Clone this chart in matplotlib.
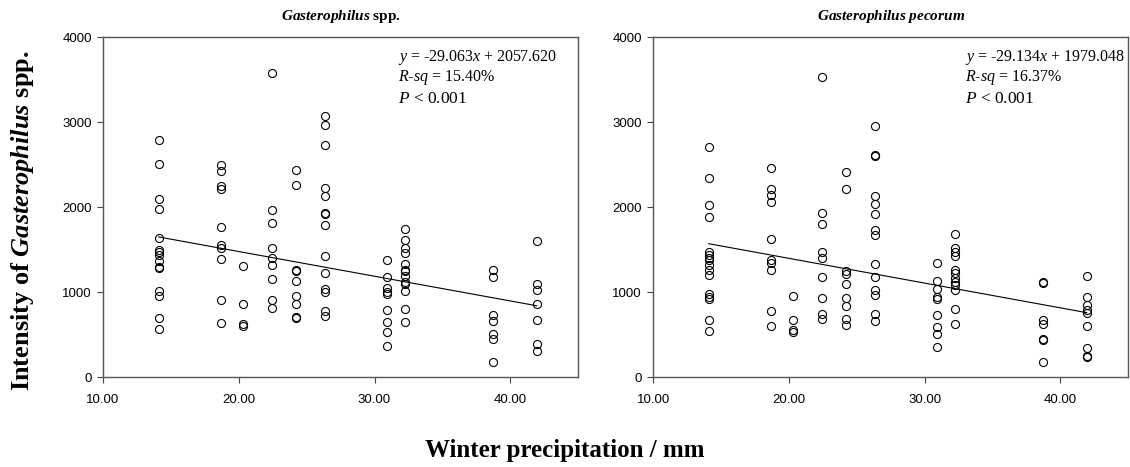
import matplotlib
matplotlib.use("Agg")
import matplotlib.pyplot as plt
import numpy as np

plt.rcParams['mathtext.fontset'] = 'custom'
plt.rcParams['mathtext.it'] = 'Liberation Serif:italic'
plt.rcParams['mathtext.rm'] = 'Liberation Serif'
plt.rcParams['mathtext.bf'] = 'Liberation Serif:bold'
plt.rcParams['mathtext.bfit'] = 'Liberation Serif:italic:bold'

# winter precipitation (mm) of each sampling site
sites = [14.1, 18.7, 20.3, 22.45, 24.2, 26.35, 30.9, 32.25, 38.75, 41.95]

# Gasterophilus spp. intensity per site
spp_vals = [
    [2784, 2510, 2094, 1973, 1640, 1494, 1470, 1435, 1369, 1298, 1282, 1010, 950, 700, 565],
    [2494, 2424, 2251, 2212, 1761, 1557, 1522, 1384, 902, 635],
    [1306, 859, 627, 596],
    [3576, 1965, 1816, 1518, 1400, 1322, 1153, 902, 816],
    [2431, 2263, 1263, 1247, 1129, 957, 863, 706, 690],
    [3071, 2965, 2725, 2220, 2129, 1933, 1922, 1788, 1420, 1224, 1035, 996, 776, 722],
    [1376, 1180, 1043, 1004, 980, 788, 643, 529, 369],
    [1741, 1612, 1522, 1455, 1325, 1259, 1247, 1192, 1122, 1094, 1012, 800, 643],
    [1255, 1176, 725, 659, 502, 451, 176],
    [1600, 1098, 1020, 863, 667, 392, 306],
]

# Gasterophilus pecorum intensity per site
pec_vals = [
    [2706, 2341, 2024, 1882, 1471, 1431, 1400, 1373, 1322, 1255, 1204, 980, 941, 918, 667, 537],
    [2459, 2212, 2137, 2059, 1620, 1380, 1345, 1263, 776, 600],
    [957, 675, 557, 529],
    [3529, 1929, 1804, 1467, 1400, 1180, 933, 745, 686],
    [2408, 2212, 1247, 1216, 1090, 933, 831, 682, 612],
    [2949, 2608, 2596, 2133, 2031, 1922, 1725, 1675, 1329, 1180, 1020, 961, 741, 663],
    [1345, 1129, 1035, 937, 914, 729, 592, 502, 353],
    [1678, 1514, 1475, 1424, 1259, 1220, 1161, 1122, 1082, 1024, 796, 624],
    [1118, 1110, 675, 627, 451, 431, 176],
    [1188, 941, 843, 784, 753, 596, 345, 243, 235],
]

panels = [
    ("$\\mathbfit{Gasterophilus}$ spp.", spp_vals, (-29.063, 2057.620), "15.40"),
    ("$\\mathbfit{Gasterophilus\\ pecorum}$", pec_vals, (-29.134, 1979.048), "16.37"),
]

fig = plt.figure(figsize=(11.3, 4.67), dpi=100)
lefts = [0.0912, 0.578]
tick_font = ['Liberation Sans Narrow', 'Liberation Sans']
serif = 'Liberation Serif'

for left, (title, vals, coef, rsq) in zip(lefts, panels):
    ax = fig.add_axes([left, 0.1927, 0.4204, 0.728])
    for xs, ys in zip(sites, vals):
        ax.plot([xs] * len(ys), ys, linestyle='none', marker='o', ms=5.8,
                mfc='none', mec='black', mew=0.8)
    xl = np.array([sites[0], sites[-1]])
    ax.plot(xl, np.polyval(coef, xl), color='black', lw=0.8)

    ax.set_xlim(10, 45)
    ax.set_ylim(0, 4000)
    ax.set_xticks([10, 20, 30, 40])
    ax.set_xticklabels(["10.00", "20.00", "30.00", "40.00"])
    ax.set_yticks([0, 1000, 2000, 3000, 4000])
    ax.tick_params(direction='out', length=4, width=0.8, color='#444444',
                   labelsize=9.5, pad=4)
    ax.tick_params(axis='x', pad=8)
    for lab in ax.get_xticklabels() + ax.get_yticklabels():
        lab.set_family(tick_font)
    for sp in ax.spines.values():
        sp.set_color('#555555')
        sp.set_linewidth(1.0)

    ax.set_title(title, family=serif, weight='bold', fontsize=11, pad=12)

    tx = 31.7 if left < 0.5 else 33.0
    ax.text(tx, 3765, f"$\\it{{y}}$ = {coef[0]:.3f}$\\it{{x}}$ + {coef[1]:.3f}",
            family=serif, fontsize=11.5, va='center')
    ax.text(tx, 3520, f"$\\it{{R}}$-$\\it{{sq}}$ = {rsq}%", family=serif,
            fontsize=11.5, va='center')
    ax.text(tx, 3270, "$\\it{P}$ < 0.001", family=serif, fontsize=12.5, va='center')

fig.text(0.02, 0.527, "Intensity of $\\mathbfit{Gasterophilus}$ spp.", rotation=90,
         family=serif, weight='bold', fontsize=19, ha='center', va='center')
fig.text(0.5, 0.036, "Winter precipitation / mm", family=serif, weight='bold',
         fontsize=18, ha='center', va='center')

fig.savefig("out.png", dpi=100)
